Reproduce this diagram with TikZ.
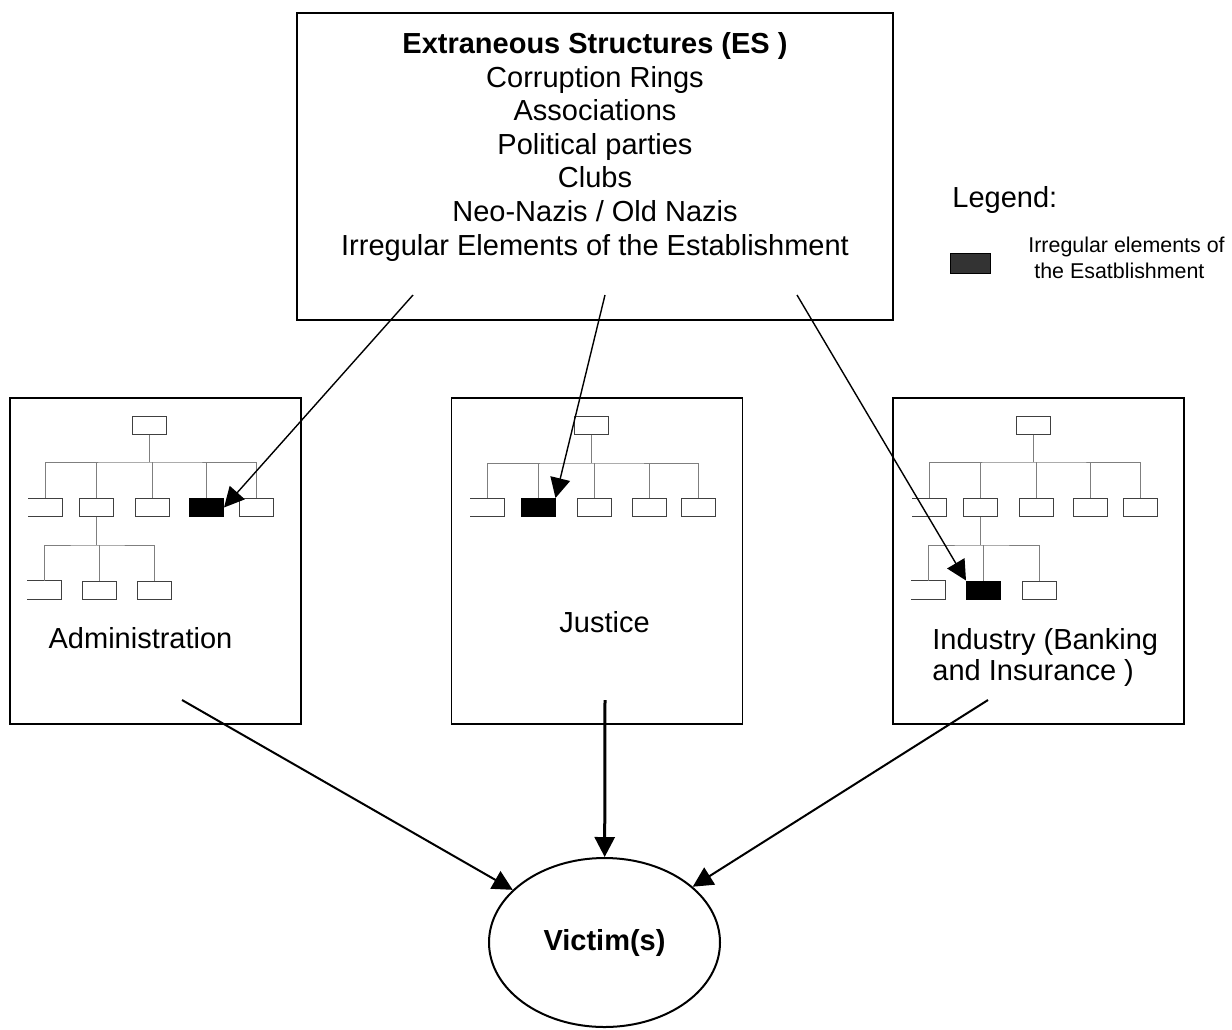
\documentclass[tikz,border=0pt]{standalone}
\usepackage{fontspec}
\setmainfont{Liberation Sans}
\usetikzlibrary{arrows.meta,shapes.geometric}
\definecolor{inkline}{HTML}{000000}
\definecolor{orgwire}{HTML}{7F7F7F}
\definecolor{orgedge}{HTML}{404040}
\definecolor{irrfill}{HTML}{000000}
\definecolor{legfill}{HTML}{333333}
\newcommand{\ttl}[1]{\textbf{#1}}

\begin{document}
\begin{tikzpicture}[
  x=0.5pt, y=-0.5pt,
  font=\fontsize{14.5}{16.8}\selectfont,
  >={Triangle[length=10pt,width=10pt]},
  sector/.style={draw=inkline, line width=0.9pt, minimum width=145.5pt, minimum height=163pt, inner sep=0pt},
  esbox/.style={draw=inkline, line width=0.9pt, minimum width=298pt, minimum height=153.5pt, inner sep=0pt},
  unit/.style={draw=orgedge, line width=0.5pt, fill=white, minimum width=17pt, minimum height=9pt, inner sep=0pt},
  cutunit/.style={minimum width=17pt, minimum height=9pt, inner sep=0pt},
  irr/.style={unit, draw=inkline, fill=irrfill},
  orgline/.style={draw=orgwire, line width=0.5pt},
  cutline/.style={draw=orgedge, line width=0.5pt},
  arr/.style={->, draw=inkline, line width=1pt},
  thinarr/.style={->, draw=inkline, line width=0.7pt},
  lbl/.style={anchor=base, text=inkline, inner sep=0pt},
]
\useasboundingbox (0,0) rectangle (1232,1029);

% ---- extraneous structures (base = last line) ----
\node[esbox] (es) at (595,166.5) {};
\node[lbl, align=center] (eslist) at (595,255) {\ttl{Extraneous Structures (ES )}\\Corruption Rings\\Associations\\Political parties\\Clubs\\Neo-Nazis / Old Nazis\\Irregular Elements of the Establishment};

% ---- legend ----
\node[lbl, anchor=base west] (leghead) at (952,207) {Legend:};
\node[draw=inkline, line width=0.4pt, fill=legfill, minimum width=20pt, minimum height=10pt, inner sep=0pt] (legkey) at (970,263) {};
\node[lbl, anchor=base west, align=left, font=\fontsize{10.7}{13}\selectfont] (legtxt) at (1028,278) {Irregular elements of\\\ the Esatblishment};

% ---- sectors ----
\node[sector] (adm) at (155.5,561) {};
\node[sector] (jus) at (597,561) {};
\node[sector] (ind) at (1038.5,561) {};
\node[lbl] (admlbl) at (140.5,648) {Administration};
\node[lbl] (juslbl) at (604.5,632) {Justice};
\node[lbl, anchor=base west, align=left, font=\fontsize{14.5}{15.5}\selectfont] (indlbl) at (932,680) {Industry (Banking\\and Insurance )};

% ---- administration chart ----
\node[unit] (a0) at (149.5,425) {};
\node[cutunit] (a1) at (45.5,507.5) {};
\node[unit] (a2) at (96,507.5) {};
\node[unit] (a3) at (152,507.5) {};
\node[irr] (a4) at (206.5,507.5) {};
\node[unit] (a5) at (256,507.5) {};
\node[cutunit] (b1) at (44.5,590) {};
\node[unit] (b2) at (99.5,590) {};
\node[unit] (b3) at (154.5,590) {};
\coordinate (abus) at (149.5,462);
\coordinate (bbus) at (96,545);
\draw[cutline] (a1.north west) -- (a1.north east) -- (a1.south east) -- (a1.south west);
\draw[cutline] (b1.north west) -- (b1.north east) -- (b1.south east) -- (b1.south west);
\draw[orgline] (a0) -- (abus) (a1.north) |- (abus) -| (a5.north)
  (a2.north) -- (a2.north |- abus) (a3.north) -- (a3.north |- abus) (a4.north) -- (a4.north |- abus);
\draw[orgline] (a2) -- (bbus) (b1.north) |- (bbus) -| (b3.north) (b2.north) -- (b2.north |- bbus);

% ---- justice chart ----
\node[unit] (j0) at (591,425) {};
\node[cutunit] (j1) at (487.5,507.5) {};
\node[irr] (j2) at (538,507.5) {};
\node[unit] (j3) at (594,507.5) {};
\node[unit] (j4) at (649,507.5) {};
\node[unit] (j5) at (698,507.5) {};
\coordinate (jbus) at (591,463);
\draw[cutline] (j1.north west) -- (j1.north east) -- (j1.south east) -- (j1.south west);
\draw[orgline] (j0) -- (jbus) (j1.north) |- (jbus) -| (j5.north)
  (j2.north) -- (j2.north |- jbus) (j3.north) -- (j3.north |- jbus) (j4.north) -- (j4.north |- jbus);

% ---- industry chart ----
\node[unit] (i0) at (1033.5,425) {};
\node[cutunit] (i1) at (929.5,507.5) {};
\node[unit] (i2) at (980,507.5) {};
\node[unit] (i3) at (1036,507.5) {};
\node[unit] (i4) at (1090.5,507.5) {};
\node[unit] (i5) at (1140,507.5) {};
\node[cutunit] (k1) at (928.5,590) {};
\node[irr] (k2) at (983.5,590) {};
\node[unit] (k3) at (1039,590) {};
\coordinate (ibus) at (1033.5,462);
\coordinate (kbus) at (980,545);
\draw[cutline] (i1.north west) -- (i1.north east) -- (i1.south east) -- (i1.south west);
\draw[cutline] (k1.north west) -- (k1.north east) -- (k1.south east) -- (k1.south west);
\draw[orgline] (i0) -- (ibus) (i1.north) |- (ibus) -| (i5.north)
  (i2.north) -- (i2.north |- ibus) (i3.north) -- (i3.north |- ibus) (i4.north) -- (i4.north |- ibus);
\draw[orgline] (i2) -- (kbus) (k1.north) |- (kbus) -| (k3.north) (k2.north) -- (k2.north |- kbus);

% ---- victim ----
\node[ellipse, draw=inkline, line width=1pt, minimum width=115.5pt, minimum height=84.5pt, inner sep=0pt] (victim) at (604.5,942.5) {\ttl{Victim(s)}};

% ---- arrows ----
\coordinate (esa) at (413,295);
\coordinate (esb) at (605,295);
\coordinate (esc) at (797,295);
\draw[thinarr] (esa) -- (a4.east);
\draw[thinarr] (esb) -- (j2.north east);
\draw[thinarr] (esc) -- (k2.north west);
\coordinate (admout) at (182,700);
\coordinate (jusout) at (605,700);
\coordinate (indout) at (988,700);
\draw[arr] (admout) -- (victim);
\draw[arr, line width=1.5pt] (jusout) -- (victim);
\draw[arr] (indout) -- (victim);

\end{tikzpicture}
\end{document}
